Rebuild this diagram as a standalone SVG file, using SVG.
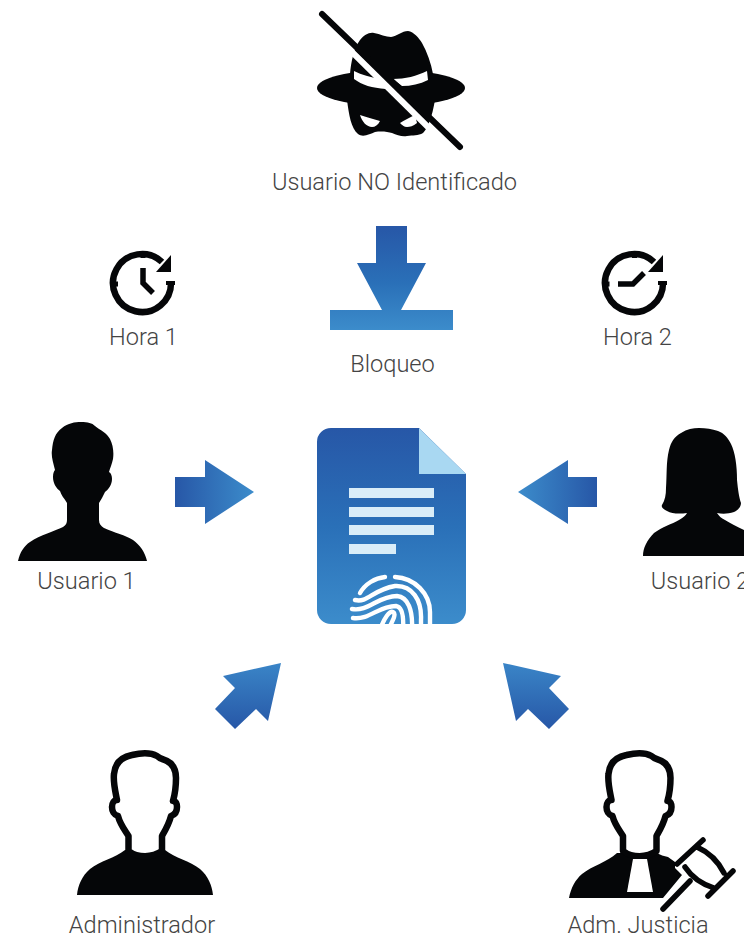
<svg xmlns="http://www.w3.org/2000/svg" width="744" height="939" viewBox="0 0 744 939">
<style>
text{font-family:Roboto,"Liberation Sans",sans-serif;font-weight:300;font-size:23.600px;fill:#444;text-anchor:middle}
.k{fill:#050608}
.o{fill:none;stroke:#050608;stroke-width:5.500;stroke-linecap:round;stroke-linejoin:round}
.ring{fill:none;stroke:#050608;stroke-width:6.500}
.fp{fill:none;stroke:#fff;stroke-width:4.400;stroke-linecap:round}
.ln{fill:#d9edf8}
</style>
<defs>
<linearGradient id="v" x1="0" y1="0" x2="0" y2="1"><stop offset="0" stop-color="#2757a7"/><stop offset=".5" stop-color="#2a70b8"/><stop offset="1" stop-color="#3c8ccb"/></linearGradient>
<linearGradient id="vu" x1="0" y1="1" x2="0" y2="0"><stop offset="0" stop-color="#2757a7"/><stop offset="1" stop-color="#3a85c7"/></linearGradient>
<linearGradient id="hr" x1="0" y1="0" x2="1" y2="0"><stop offset="0" stop-color="#2757a7"/><stop offset="1" stop-color="#3c8ccb"/></linearGradient>
<linearGradient id="hl" x1="1" y1="0" x2="0" y2="0"><stop offset="0" stop-color="#2757a7"/><stop offset="1" stop-color="#3c8ccb"/></linearGradient>
<linearGradient id="dl" gradientUnits="userSpaceOnUse" x1="0" y1="226" x2="0" y2="330"><stop offset="0" stop-color="#2757a7"/><stop offset=".55" stop-color="#2a70b8"/><stop offset="1" stop-color="#3c8ccb"/></linearGradient>
<clipPath id="docclip"><path d="M330,428H419L466,474V610a14,14 0 0 1-14,14H331a14,14 0 0 1-14-14V442a14,14 0 0 1 14-14Z"/></clipPath>
<path id="outlinehead" d="M128.500,851V836C124,829 120,824 118,816C114,815 112,811 112,807C112,803 114,800 117,800C115,790 113,782 114,774C115,763 122,757 132,755C140,753 150,752 157,756C160,759 163,759 167,761C173,764 176,770 176,778C176,786 175,794 173,801C176,801 177,804 177,807C177,812 174,815 171,816C169,824 166,829 162,836V851C152,858 138,858 128.500,851Z" fill="#fff" stroke="#050608" stroke-width="6.500" stroke-linejoin="round"/>
</defs>

<g id="connectors">
<path fill="url(#hr)" d="M175,477H205V460L254,492L205,524V507H175Z"/>
<path fill="url(#hl)" d="M597,477H568V460L518,492L568,524V507H597Z"/>
<path fill="url(#vu)" d="M281,663L223,676L235,688L215,709L235,729L256,709L268,721Z"/>
<path fill="url(#vu)" d="M503,663L561,676L549,688L569,709L549,729L528,709L516,721Z"/>
</g>

<g id="intruder">
<ellipse class="k" cx="391" cy="88" rx="74" ry="18"/>
<path class="k" d="M350,74C351,62 354,48 360,40C364,35 369,32 374,33C380,34 386,37 391,37C397,36 402,31 408,31C414,32 419,38 422,43C427,52 431,63 433,74Z"/>
<path class="k" d="M347,100C349,115 351,128 358,134C363,138 370,134 375,132C382,131 388,132 392,133C397,135 402,137 407,136C413,135 418,136 423,133C428,128 432,117 435,100Z"/>
<path fill="#fff" d="M354,71C362,75 370,77 380,79L386,89C372,88 362,85 354,79Z"/>
<path fill="#fff" d="M393,79C405,79 417,76 427,71L428,80C420,84 411,86 402,86Z"/>
<path fill="#fff" d="M360,115C366,117 373,119 380,121C378,125 375,127 372,127C367,127 362,122 360,115Z"/>
<path fill="#fff" d="M400,123C405,120 410,117 415,115L417,123C413,126 410,127 407,127C404,127 402,125 400,123Z"/>
<path d="M352,52L432,131" stroke="#fff" stroke-width="6" fill="none"/>
<path d="M322,14L460,147" stroke="#050608" stroke-width="6" stroke-linecap="round" fill="none"/>
<text x="394.500" y="190">Usuario NO Identificado</text>
</g>

<g id="block">
<path fill="url(#dl)" d="M376,226H407V263H426L401,310H453V330H330V310H382L357,263H376Z"/>
<text x="392.500" y="372">Bloqueo</text>
</g>

<g id="hora1">
<path class="ring" d="M171,282A29,29 0 1 1 162,262"/>
<path class="k" d="M171,255V272H156Z"/>
<path class="k" d="M140.500,253h5v5h-5zM140.500,310h5v5h-5zM113,281.500h5v5h-5zM166,281h9v4h-9z"/>
<path d="M143,268V283L153,293" fill="none" stroke="#050608" stroke-width="5.500"/>
<text x="143.500" y="345">Hora 1</text>
</g>

<g id="hora2">
<path class="ring" d="M663,282A29,29 0 1 1 654,262"/>
<path class="k" d="M663,255V272H648Z"/>
<path class="k" d="M632,253h5v5h-5zM632,310h5v5h-5zM604.500,281.500h5v5h-5zM658,281h9v4h-9z"/>
<path d="M618,284H633L644,273" fill="none" stroke="#050608" stroke-width="5.500"/>
<text x="637.500" y="345">Hora 2</text>
</g>

<g id="document">
<path fill="url(#v)" d="M330,428H419L466,474V610a14,14 0 0 1-14,14H331a14,14 0 0 1-14-14V442a14,14 0 0 1 14-14Z"/>
<path fill="#a9d8f2" d="M419,428L466,474H419Z"/>
<rect class="ln" x="349" y="488" width="85" height="10"/>
<rect class="ln" x="349" y="507" width="85" height="10"/>
<rect class="ln" x="349" y="525" width="85" height="10"/>
<rect class="ln" x="349" y="544" width="47" height="10"/>
<g clip-path="url(#docclip)">
<path class="fp" d="M395,577C415,578 430,594 430,612V630"/>
<path class="fp" d="M385,577C375,578 365,584 360,593"/>
<path class="fp" d="M355,600C368,603 372,590 395,586C412,585 422,600 421,620V630"/>
<path class="fp" d="M352,609C368,612 378,596 397,596C408,597 413,610 412,630"/>
<path class="fp" d="M353,618C370,620 378,606 396,606C402,607 404,615 403,630"/>
<path class="fp" d="M380,630C384,618 390,610 393,612C397,614 392,622 388,630"/>
</g>
</g>

<g id="usuario1">
<path class="k" d="M18,561C20,552 24,546 30,542C40,535 55,531 63,527C66,525 67,523 67,520V503C64,498 61,495 60,491C56,488 53,483 53,477C53,473 54,471 55,470C53,462 51,456 52,450C53,440 55,433 62,428C68,423 75,422 81,422C88,422 92,423 95,426C100,430 107,433 110,439C113,445 114,452 113,459C112,464 110,468 109,472C111,473 112,476 112,479C112,485 108,490 105,492C103,496 101,500 99,503V520C99,524 101,526 104,528C115,533 125,535 133,540C140,545 145,552 147,561Z"/>
<text x="86.500" y="589">Usuario 1</text>
</g>

<g id="usuario2">
<path class="k" d="M643,556C643,548 647,540 654,533C662,527 672,524 679,520C683,518 686,515 687,513C680,514 672,514 667,511C663,509 661,507 662,505C665,500 666,495 666,488C667,475 666,462 669,450C671,442 674,437 681,433C687,429 693,428 699,428C706,428 712,429 718,431C724,433 728,438 731,444C735,452 737,465 737,480C738,490 739,497 741,503C741,507 738,510 734,512C728,514 722,514 717,513C719,516 721,518 725,520C731,524 738,527 746,531V556Z"/>
<text x="700" y="589">Usuario 2</text>
</g>

<g id="administrador">
<path class="k" d="M77,895C78,885 82,876 90,869C100,861 115,858 125,850L165,850C175,858 190,861 200,869C208,876 212,885 213,895Z"/>
<use href="#outlinehead"/>
<text x="142" y="933">Administrador</text>
</g>

<g id="justicia">
<path class="k" d="M569,898C571,888 575,880 582,874C592,866 607,862 617,853H657C660,855 664,856 668,857L675,862L675,868L682,875L663,898Z"/>
<use href="#outlinehead" x="494.500" y="0"/>
<path fill="#fff" d="M633,859H647L653,892H627Z"/>
<path d="M677,864L703,840M708,896L733,871M697,847Q715,855 724,873M685,867Q695,882 714,888M663,909L690,881" class="o"/>
<text x="638" y="933">Adm. Justicia</text>
</g>
</svg>
